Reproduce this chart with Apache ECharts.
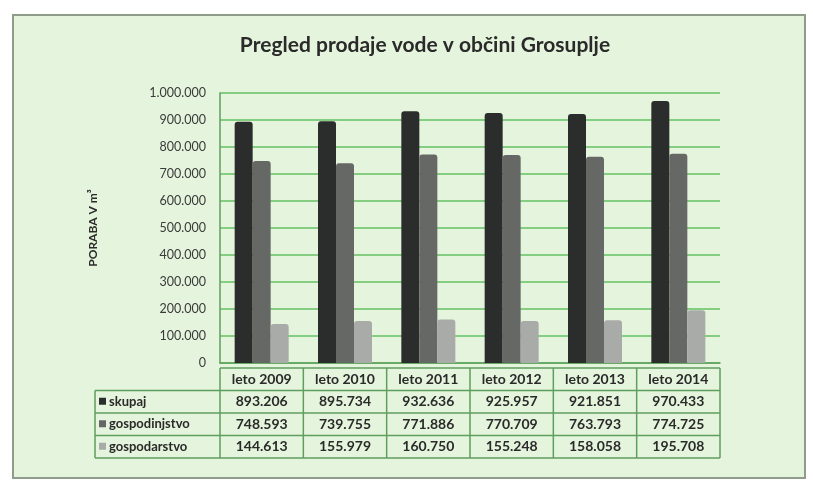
<!DOCTYPE html>
<html>
<head>
<meta charset="utf-8">
<script src="https://cdn.jsdelivr.net/npm/echarts@6/dist/echarts.min.js"></script>
<style>
  html, body { margin: 0; padding: 0; background: #fff; }
  #main { width: 813px; height: 486px; }
</style>
</head>
<body>
<div id="main"></div>
<script>
// podatki
var years = ['leto 2009', 'leto 2010', 'leto 2011', 'leto 2012', 'leto 2013', 'leto 2014'];
var skupaj = [893206, 895734, 932636, 925957, 921851, 970433];
var gospodinjstvo = [748593, 739755, 771886, 770709, 763793, 774725];
var gospodarstvo = [144613, 155979, 160750, 155248, 158058, 195708];
var seriesNames = ['skupaj', 'gospodinjstvo', 'gospodarstvo'];
var seriesColors = ['#2b2d2c', '#666866', '#a9aba8'];

var fmt = function (v) {
  return String(v).replace(/\B(?=(\d{3})+(?!\d))/g, '.');
};

var gridLeft = 220, gridRight = 93, gridTop = 93, gridBottom = 123;
var W = 813, H = 486;
var plotW = W - gridLeft - gridRight;
var colW = plotW / years.length;
var tableTop = 368, rowH = 22.5, labelLeft = 95;
var font = 'Lato, "Open Sans", sans-serif';
var lineColor = '#5e9e5e';

var chart = echarts.init(document.getElementById('main'));

// tabela pod grafom
var graphic = [
  {type: 'rect', shape: {x: 13, y: 15, width: 792, height: 463},
   style: {fill: '#e5f4dc', stroke: '#8f9c8c', lineWidth: 2}, z: -10},
  {type: 'text', x: 93, y: 228, rotation: Math.PI / 2, style: {
    text: 'PORABA V m³', font: 'bold 12px ' + font, fill: '#2a2a2a', align: 'center', verticalAlign: 'middle'}}
];
var allData = [skupaj, gospodinjstvo, gospodarstvo];
var tableBottom = tableTop + rowH * 4;
// horizontalne crte
graphic.push({type: 'line', shape: {x1: gridLeft, y1: tableTop, x2: gridLeft + plotW, y2: tableTop},
  style: {stroke: lineColor, lineWidth: 1.5}});
for (var r = 1; r <= 4; r++) {
  graphic.push({type: 'line', shape: {x1: labelLeft, y1: tableTop + rowH * r, x2: gridLeft + plotW, y2: tableTop + rowH * r},
    style: {stroke: lineColor, lineWidth: 1.5}});
}
// vertikalne crte
graphic.push({type: 'line', shape: {x1: labelLeft, y1: tableTop + rowH, x2: labelLeft, y2: tableBottom},
  style: {stroke: lineColor, lineWidth: 1.5}});
for (var c = 0; c <= years.length; c++) {
  graphic.push({type: 'line', shape: {x1: gridLeft + colW * c, y1: tableTop, x2: gridLeft + colW * c, y2: tableBottom},
    style: {stroke: lineColor, lineWidth: 1.5}});
}
// glava
years.forEach(function (y, i) {
  graphic.push({type: 'text', x: gridLeft + colW * (i + 0.5), y: tableTop + rowH / 2, style: {
    text: y, font: 'bold 14px ' + font, fill: '#2a2a2a', align: 'center', verticalAlign: 'middle'}});
});
// vrstice
seriesNames.forEach(function (name, s) {
  var cy = tableTop + rowH * (s + 1.5);
  graphic.push({type: 'rect', shape: {x: labelLeft + 4, y: cy - 4, width: 7, height: 7},
    style: {fill: seriesColors[s]}});
  graphic.push({type: 'text', x: labelLeft + 14, y: cy, style: {
    text: name, font: 'bold 13px ' + font, fill: '#2a2a2a', align: 'left', verticalAlign: 'middle'}});
  allData[s].forEach(function (v, i) {
    graphic.push({type: 'text', x: gridLeft + colW * (i + 0.5), y: cy, style: {
      text: fmt(v), font: 'bold 14px ' + font, fill: '#2a2a2a', align: 'center', verticalAlign: 'middle'}});
  });
});

chart.setOption({
  backgroundColor: '#ffffff',
  animation: false,
  title: {
    text: 'Pregled prodaje vode v občini Grosuplje',
    left: 420, top: 30, textAlign: 'center',
    textStyle: {fontFamily: font, fontSize: 21, fontWeight: 'bold', color: '#2a2a2a'}
  },
  grid: {left: gridLeft, right: gridRight, top: gridTop, bottom: gridBottom},
  xAxis: {
    type: 'category',
    data: years,
    axisLine: {lineStyle: {color: lineColor, width: 1.5}},
    axisTick: {show: false},
    axisLabel: {show: false}
  },
  yAxis: {
    type: 'value',
    min: 0, max: 1000000, interval: 100000,
    axisLine: {show: true, lineStyle: {color: lineColor, width: 1.5}},
    axisTick: {show: false},
    splitLine: {lineStyle: {color: '#62c262', width: 1.5}},
    axisLabel: {
      formatter: fmt, margin: 14,
      fontFamily: font, fontSize: 12.5, color: '#3a3a3a'
    }
  },
  series: seriesNames.map(function (name, s) {
    return {
      name: name, type: 'bar', data: allData[s],
      barWidth: 18, barGap: '0%',
      itemStyle: {color: seriesColors[s], borderRadius: [3, 3, 0, 0]}
    };
  }),
  graphic: graphic
});
</script>
</body>
</html>
